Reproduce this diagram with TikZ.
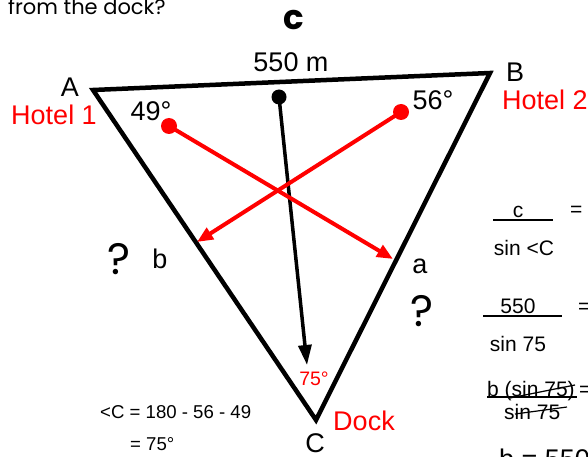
\documentclass[tikz,border=0pt]{standalone}
\usepackage{fontspec}
\setmainfont{Liberation Sans}
\newfontfamily\handfont{Poppins}
\usetikzlibrary{arrows.meta}
\begin{document}
\begin{tikzpicture}[x=1pt,y=-1pt,
  big/.style={inner sep=0pt,anchor=base,font=\fontsize{27}{30}\selectfont},
  small/.style={inner sep=0pt,anchor=base,font=\fontsize{21}{24}\selectfont},
  calc/.style={inner sep=0pt,anchor=base west,font=\fontsize{18.6}{21}\selectfont},
  redtxt/.style={text=red},
  qmark/.style={inner sep=0pt,anchor=base,font=\handfont\fontsize{44}{46}\selectfont},
  side/.style={line width=4.5pt,line join=miter},
  dotb/.style={circle,fill=black,inner sep=0pt,minimum size=15pt},
  dotr/.style={circle,fill=red,inner sep=0pt,minimum size=16pt},
  blackarrow/.style={line width=3.5pt,-{Triangle[length=20pt,width=13pt]}},
  redarrow/.style={line width=4pt,red,-{Triangle[length=16pt,width=13pt]}},
  rule/.style={line width=1.2pt},
  strike/.style={line width=1.2pt}
]
\useasboundingbox (0,0) rectangle (588,457);
% top text
\node[inner sep=0pt,anchor=base west,font=\handfont\fontsize{21}{24}\selectfont] (q) at (8,15) {from the dock?};
\node[inner sep=0pt,anchor=base,font=\handfont\bfseries\fontsize{34}{36}\selectfont] (cc) at (294,30) {c};
% triangle
\coordinate (A) at (93,90);
\coordinate (B) at (490,73);
\coordinate (C) at (316,420);
\draw[side] (A) -- (B) -- (C) -- cycle;
% labels
\node[big] (lA) at (70,97) {A};
\node[big,redtxt] (h1) at (54,125) {Hotel 1};
\node[big] (a49) at (151,121) {49°};
\node[big] (len) at (291,72) {550 m};
\node[big] (lB) at (515,82) {B};
\node[big,redtxt,anchor=base west] (h2) at (502,110) {Hotel 2};
\node[big] (a56) at (433,110) {56°};
\node[big] (lb) at (160,268) {b};
\node[big] (la) at (420,273) {a};
\node[qmark] (q1) at (119,274) {?};
\node[qmark] (q2) at (422,326) {?};
\node[inner sep=0pt,anchor=base,font=\fontsize{19.5}{22}\selectfont,redtxt] (a75) at (314,385) {75°};
\node[big,redtxt] (dock) at (364,430) {Dock};
\node[big] (lC) at (315,452) {C};
\node[calc] (e1) at (100,418) {<C = 180 - 56 - 49};
\node[calc] (e2) at (130,450) {= 75°};
% dots and arrows
\node[dotb] (d0) at (279,97) {};
\coordinate (t0) at (307,365);
\draw[blackarrow] (d0.center) -- (t0);
\node[dotr] (d1) at (169,126) {};
\node[dotr] (d2) at (401,112) {};
\coordinate (t1) at (393,259);
\coordinate (t2) at (197,242);
\draw[redarrow] (d1.center) -- (t1);
\draw[redarrow] (d2.center) -- (t2);
% right side equations
\node[small] (rc) at (518,217) {c};
\coordinate (u1a) at (493,220); \coordinate (u1b) at (553,220);
\draw[rule] (u1a) -- (u1b);
\node[small,anchor=base west] (eq1) at (570,216) {=};
\node[small] (rsc) at (524,255) {sin <C};
\node[small] (r550) at (518,313) {550};
\coordinate (u2a) at (483,316); \coordinate (u2b) at (562,316);
\draw[rule] (u2a) -- (u2b);
\node[small,anchor=base west] (eq2) at (578,313) {=};
\node[small] (rs75) at (518,351) {sin 75};
\node[small,anchor=base west] (rb) at (487,396) {b (sin 75)};
\coordinate (u3a) at (487,397); \coordinate (u3b) at (577,397);
\draw[rule] (u3a) -- (u3b);
\node[small,anchor=base west] (eq3) at (579,396) {=};
\node[small,anchor=base west] (rs75b) at (504,419) {sin 75};
\coordinate (s1a) at (510,398); \coordinate (s1b) at (575,385);
\draw[strike] (s1a) -- (s1b);
\coordinate (s2a) at (515,414); \coordinate (s2b) at (567,407);
\draw[strike] (s2a) -- (s2b);
\node[big,anchor=base west] (rb550) at (499,468) {b = 550};
\end{tikzpicture}
\end{document}
